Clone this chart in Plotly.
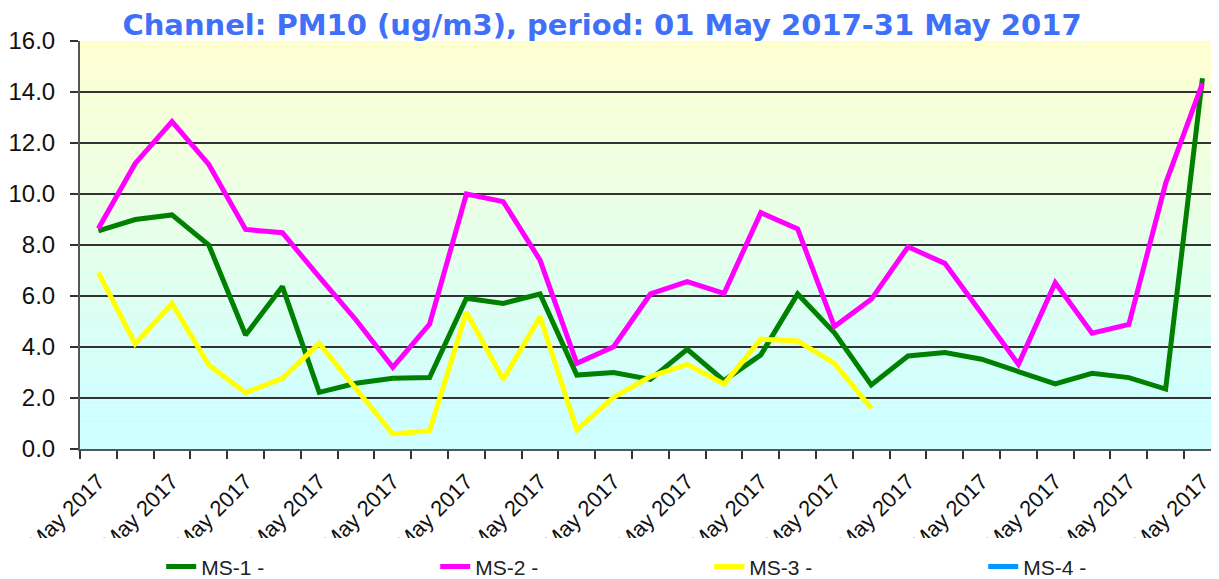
import plotly.graph_objects as go

days = ["01 May 2017", "02 May 2017", "03 May 2017", "04 May 2017", "05 May 2017",
        "06 May 2017", "07 May 2017", "08 May 2017", "09 May 2017", "10 May 2017",
        "11 May 2017", "12 May 2017", "13 May 2017", "14 May 2017", "15 May 2017",
        "16 May 2017", "17 May 2017", "18 May 2017", "19 May 2017", "20 May 2017",
        "21 May 2017", "22 May 2017", "23 May 2017", "24 May 2017", "25 May 2017",
        "26 May 2017", "27 May 2017", "28 May 2017", "29 May 2017", "30 May 2017",
        "31 May 2017"]

ms1 = [8.55, 9.0, 9.18, 8.0, 4.47, 6.37, 2.22, 2.58, 2.77, 2.8,
       5.91, 5.71, 6.08, 2.9, 3.0, 2.73, 3.91, 2.68, 3.69, 6.08,
       4.56, 2.51, 3.65, 3.78, 3.52, 3.03, 2.55, 2.97, 2.8, 2.35, 14.54]
ms2 = [8.65, 11.2, 12.84, 11.16, 8.61, 8.48, 6.75, 5.06, 3.2, 4.9,
       10.0, 9.7, 7.41, 3.36, 4.01, 6.08, 6.56, 6.1, 9.27, 8.63,
       4.8, 5.87, 7.93, 7.28, 5.31, 3.32, 6.52, 4.54, 4.89, 10.42, 14.34]
ms3 = [6.92, 4.12, 5.71, 3.29, 2.21, 2.77, 4.14, 2.37, 0.59, 0.72,
       5.36, 2.73, 5.19, 0.75, 2.03, 2.84, 3.32, 2.55, 4.31, 4.24,
       3.36, 1.6, None, None, None, None, None, None, None, None, None]
ms4 = [None] * 31

series = [("MS-1 -", ms1, "#008000"),
          ("MS-2 -", ms2, "#FF00FF"),
          ("MS-3 -", ms3, "#FFFF00"),
          ("MS-4 -", ms4, "#0099FF")]

title_text = "Channel: PM10 (ug/m3), period: 01 May 2017-31 May 2017"
y_ticks = [0, 2, 4, 6, 8, 10, 12, 14, 16]

fig = go.Figure()
for name, vals, col in series:
    fig.add_trace(go.Scatter(x=days, y=vals, name=name, mode="lines",
                             line=dict(color=col, width=5),
                             connectgaps=False))

# vertical gradient background (cyan at bottom -> pale yellow at top)
shapes = []
n = 160
c0 = (204, 255, 255)
c1 = (255, 255, 206)
for i in range(n):
    v0 = 16 * i / n
    v1 = 16 * (i + 1) / n
    t = min(max(((v0 + v1) / 2 - 1.5) / 14.5, 0), 1)
    c = tuple(round(a + (b - a) * t) for a, b in zip(c0, c1))
    shapes.append(dict(type="rect", xref="paper", yref="y", x0=0, x1=1,
                       y0=v0, y1=v1, layer="below", line=dict(width=0),
                       fillcolor="rgb(%d,%d,%d)" % c))
# white strip that crops the lower part of the rotated date labels
shapes.append(dict(type="rect", xref="paper", yref="paper", x0=-0.08, x1=1.01,
                   y0=-0.33, y1=-0.218, layer="above", line=dict(width=0),
                   fillcolor="white"))

# the page body has an 8px margin, so the figure is sized to the visible area
fig.update_layout(
    width=1211, height=571,
    margin=dict(l=72, r=0, t=33, b=130, autoexpand=False),
    paper_bgcolor="white", plot_bgcolor="rgba(0,0,0,0)",
    shapes=shapes,
    title=dict(text=title_text, x=0.4905, xanchor="center", y=0.971, yanchor="middle",
               font=dict(family="DejaVu Sans", size=29, color="#4070F8", weight="bold")),
    showlegend=True,
    legend=dict(orientation="h", x=0.0713, xanchor="left", y=-0.289, yanchor="middle",
                entrywidth=229, entrywidthmode="pixels",
                font=dict(family="Liberation Sans", size=21, color="#222"),
                bgcolor="rgba(0,0,0,0)"),
    xaxis=dict(type="category", range=[-0.5, 30.45], tickmode="array",
               tickvals=days,
               ticktext=[d if i % 2 == 0 else "" for i, d in enumerate(days)],
               tickson="boundaries", ticks="outside", ticklen=8, tickwidth=2,
               tickcolor="#333", tickangle=-45, showgrid=False, automargin=False,
               ticklabelstandoff=9,
               showline=True, linecolor="#555", linewidth=2,
               tickfont=dict(family="Liberation Sans", size=22, color="#111")),
    yaxis=dict(range=[0, 16], tickmode="array", tickvals=y_ticks,
               tickformat=".1f", ticks="outside", ticklen=8, tickwidth=2,
               tickcolor="#333", showgrid=True, gridcolor="#333", gridwidth=1.5,
               showline=True, linecolor="#555", linewidth=2, zeroline=False,
               automargin=False, ticklabelstandoff=10,
               tickfont=dict(family="Liberation Sans", size=24, color="#111")),
)

fig.write_html("out.html")
